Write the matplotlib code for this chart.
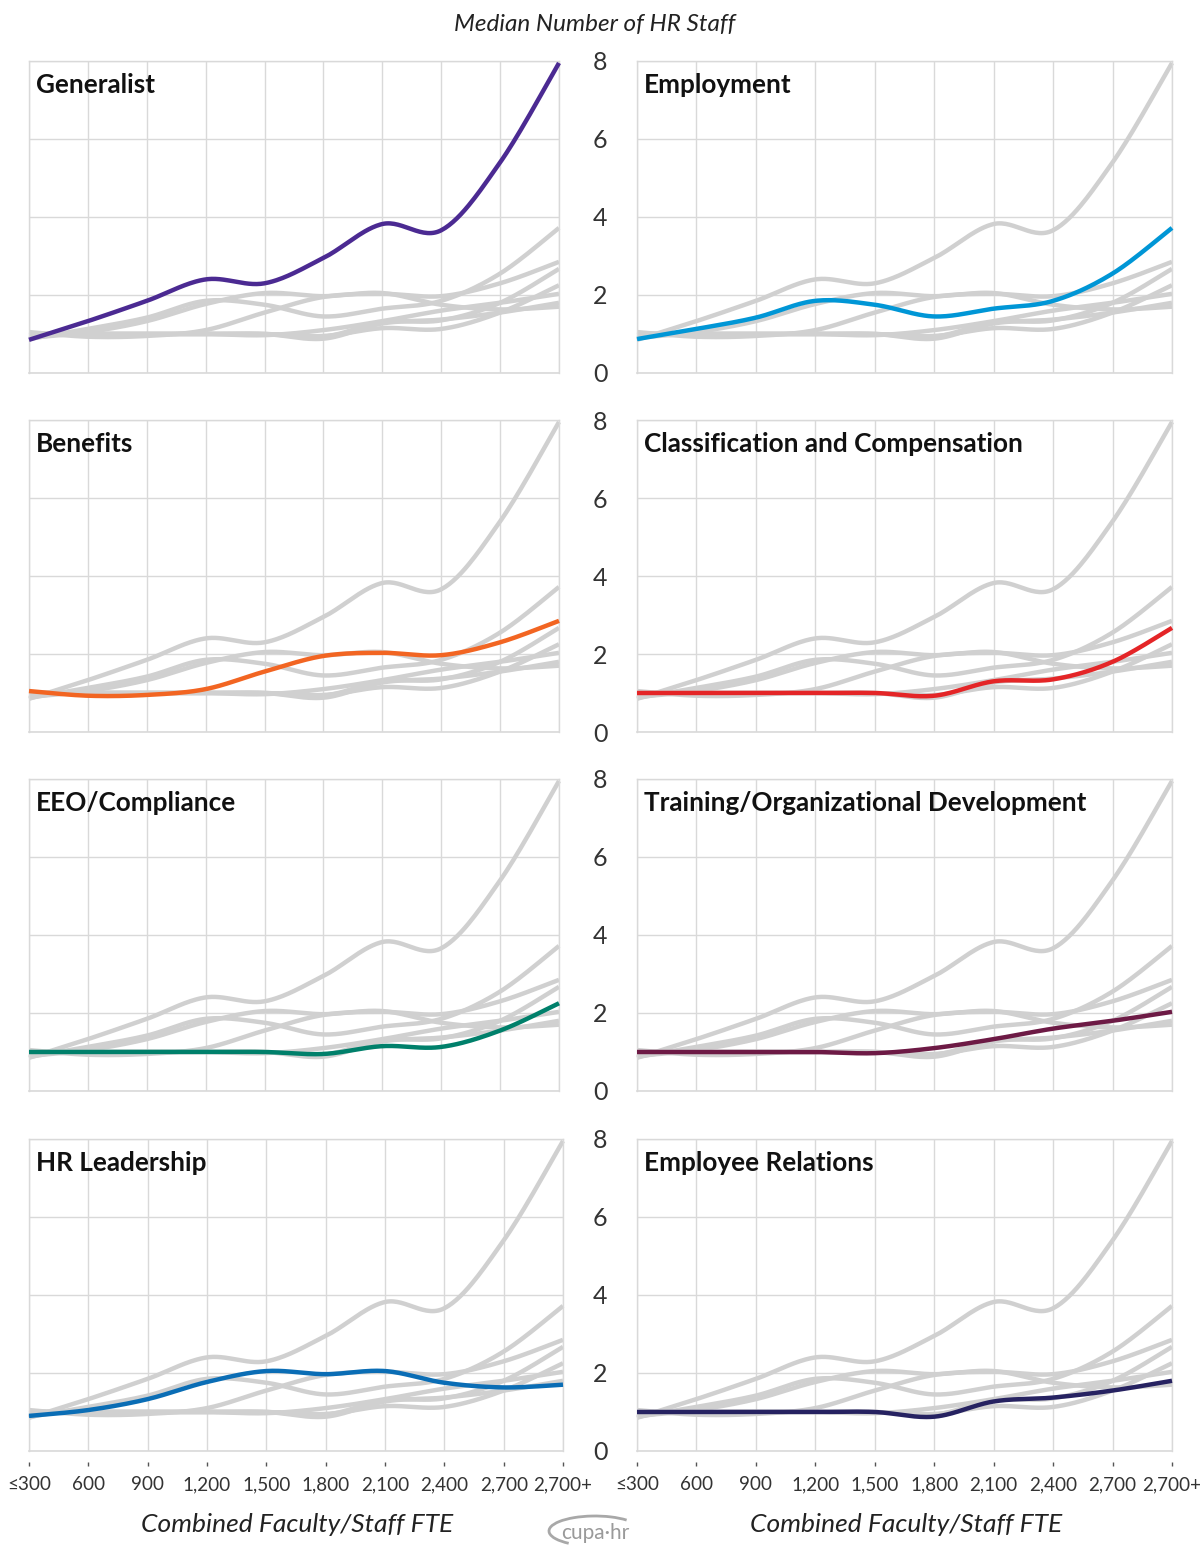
import numpy as np
import matplotlib
matplotlib.use("Agg")
import matplotlib.pyplot as plt
from matplotlib.patches import Arc

# ---------------- data ----------------
categories = ["≤300", "600", "900", "1,200", "1,500", "1,800", "2,100", "2,400", "2,700", "2,700+"]

generalist = [0.85, 1.33, 1.85, 2.40, 2.30, 2.95, 3.82, 3.66, 5.40, 7.95]
employment = [0.87, 1.13, 1.42, 1.85, 1.75, 1.45, 1.65, 1.85, 2.55, 3.72]
benefits = [1.05, 0.93, 0.95, 1.10, 1.55, 1.95, 2.03, 1.97, 2.30, 2.85]
class_comp = [1.00, 1.00, 1.00, 1.00, 1.00, 0.93, 1.30, 1.35, 1.80, 2.67]
eeo_compliance = [1.00, 1.00, 1.00, 1.00, 1.00, 0.95, 1.15, 1.13, 1.55, 2.25]
training_od = [1.00, 1.00, 1.00, 1.00, 0.97, 1.10, 1.33, 1.60, 1.80, 2.03]
hr_leadership = [0.90, 1.05, 1.33, 1.77, 2.05, 1.97, 2.05, 1.75, 1.63, 1.70]
employee_relations = [1.00, 1.00, 1.00, 1.00, 1.00, 0.88, 1.27, 1.37, 1.55, 1.80]

titles = ["Generalist", "Employment", "Benefits", "Classification and Compensation",
          "EEO/Compliance", "Training/Organizational Development", "HR Leadership",
          "Employee Relations"]
series = [generalist, employment, benefits, class_comp, eeo_compliance,
          training_od, hr_leadership, employee_relations]
colors = ["#4B2A92", "#0096D6", "#F26522", "#E42527", "#00806B", "#6D1A45",
          "#0A6DB5", "#262261"]
y_ticks = [0, 2, 4, 6, 8]

# ---------------- style ----------------
plt.rcParams["font.family"] = ["Lato", "DejaVu Sans"]
W, H = 1203, 1546
fig = plt.figure(figsize=(W / 100, H / 100), dpi=100)
GRID = "#D9D9D9"
GRAY = "#D0D0D0"


def smooth(vals, n=30):
    """Catmull-Rom style smoothing (like a spreadsheet 'smoothed line')."""
    x = np.arange(len(vals), dtype=float)
    p = np.column_stack([x, np.asarray(vals, dtype=float)])
    out = []
    for i in range(len(p) - 1):
        p0 = p[i - 1] if i > 0 else p[i]
        p1, p2 = p[i], p[i + 1]
        p3 = p[i + 2] if i + 2 < len(p) else p[i + 1]
        b1 = p1 + (p2 - p0) / 6.0
        b2 = p2 - (p3 - p1) / 6.0
        t = np.linspace(0, 1, n, endpoint=(i == len(p) - 2))[:, None]
        seg = ((1 - t) ** 3) * p1 + 3 * ((1 - t) ** 2) * t * b1 + 3 * (1 - t) * t ** 2 * b2 + t ** 3 * p2
        out.append(seg)
    arr = np.vstack(out)
    return arr[:, 0], arr[:, 1]


row_tops = [61, 420, 779, 1139]
PH = 312
for idx in range(8):
    r, c = divmod(idx, 2)
    if c == 0:
        x0, w = 29, (530 if r < 3 else 534)
    else:
        x0, w = 637, 535
    top = row_tops[r]
    ax = fig.add_axes([x0 / W, 1 - (top + PH) / H, w / W, PH / H])
    ax.set_xlim(0, len(categories) - 1)
    ax.set_ylim(0, 8)
    ax.set_xticks(range(len(categories)))
    ax.set_yticks(y_ticks)
    ax.grid(True, color=GRID, lw=1)
    ax.set_axisbelow(True)
    for s in ["top", "left", "right"]:
        ax.spines[s].set_color(GRID)
        ax.spines[s].set_linewidth(1)
    ax.spines["bottom"].set_visible(False)
    ax.spines["bottom"].set_position(("outward", 8))
    ax.axhline(0, color=GRID, lw=1.2, clip_on=False, zorder=1)

    if r == 3:
        ax.set_xticklabels(categories)
        ax.tick_params(axis="x", length=3, width=1, color="#555555", pad=7,
                       labelsize=13.6, labelcolor="#333333")
    else:
        ax.tick_params(axis="x", length=0, labelbottom=False)
    if c == 1:
        ax.tick_params(axis="y", length=0, pad=26.6, labelsize=18, labelcolor="#333333")
        for lab in ax.get_yticklabels():
            lab.set_horizontalalignment("center")
    else:
        ax.tick_params(axis="y", length=0, labelleft=False)

    for j, vals in enumerate(series):
        if j == idx:
            continue
        xs, ys = smooth(vals)
        ax.plot(xs, ys, color=GRAY, lw=3.2, zorder=2, clip_on=False, solid_capstyle="butt")
    xs, ys = smooth(series[idx])
    ax.plot(xs, ys, color=colors[idx], lw=3.2, zorder=3, clip_on=False, solid_capstyle="butt")

    ax.text(7 / w, 1 - 24 / PH, titles[idx], transform=ax.transAxes, fontsize=18.8,
            fontweight="bold", va="center", ha="left", color="#111111", zorder=5)

fig.text(595 / W, 1 - 24 / H, "Median Number of HR Staff", style="italic", fontsize=17.5,
         ha="center", va="center", color="#222222")
for cx in (297, 906):
    fig.text(cx / W, 1 - 1524 / H, "Combined Faculty/Staff FTE", style="italic", fontsize=19,
             ha="center", va="center", color="#222222")

# small logo
fig.text(595 / W, 1 - 1533 / H, "cupa·hr", fontsize=15, ha="center", va="center", color="#9A9A9A")
arc = Arc((595 / W, 1 - 1531 / H), 92 / W, 30 / H, theta1=15, theta2=200,
          transform=fig.transFigure, color="#A8A8A8", lw=2)
fig.add_artist(arc)

fig.savefig("out.png", dpi=100)
